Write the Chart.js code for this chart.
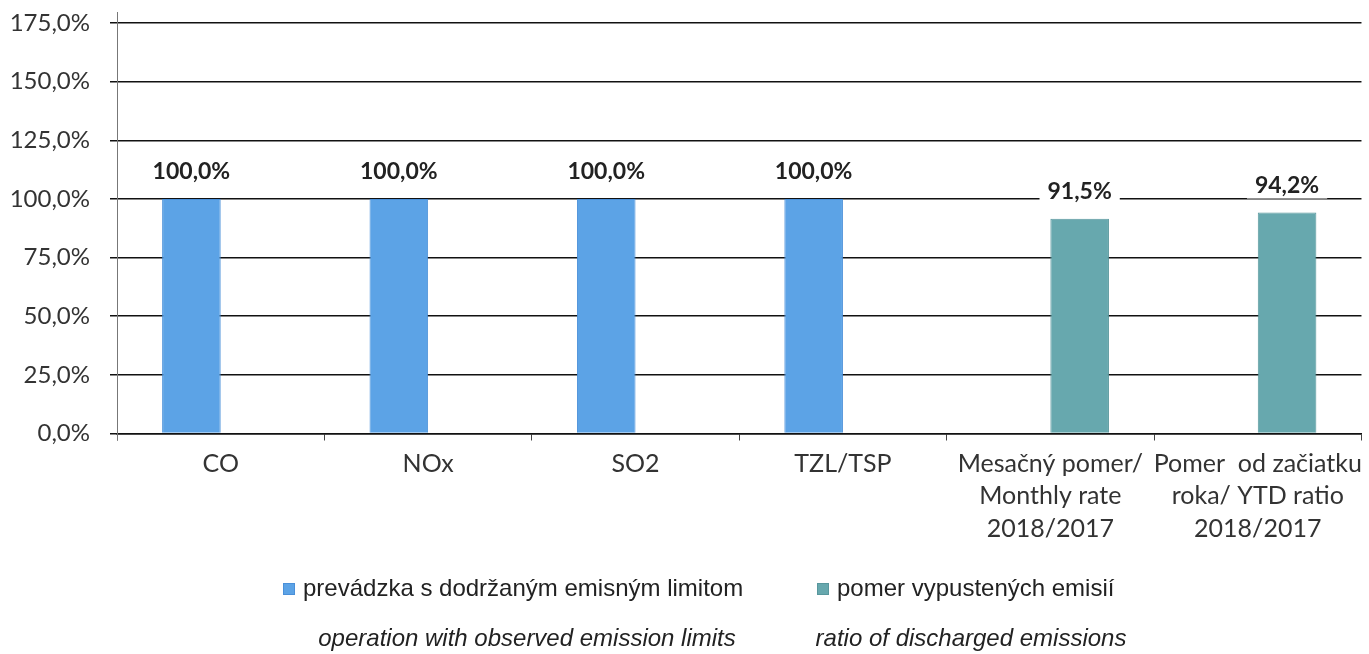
<!DOCTYPE html>
<html>
<head>
<meta charset="utf-8">
<script src="https://cdn.jsdelivr.net/npm/chart.js@4/dist/chart.umd.min.js"></script>
<style>
  html, body { margin: 0; padding: 0; background: #fff; }
  #wrap { position: relative; width: 1369px; height: 654px; }
</style>
</head>
<body>
<div id="wrap"><canvas id="c"></canvas></div>
<script>
const categories = [
  ["CO"],
  ["NOx"],
  ["SO2"],
  ["TZL/TSP"],
  ["Mesačný pomer/", "Monthly rate", "2018/2017"],
  ["Pomer  od začiatku", "roka/ YTD ratio", "2018/2017"]
];
const limitSeries = [100.0, 100.0, 100.0, 100.0, null, null];
const ratioSeries = [null, null, null, null, 91.5, 94.2];
const seriesNames = ["prevádzka s dodržaným emisným limitom", "pomer vypustených emisií"];
const seriesCaptions = ["operation with observed emission limits", "ratio of discharged emissions"];
const yTicks = [0, 25, 50, 75, 100, 125, 150, 175];

const fmt = v => v.toFixed(1).replace('.', ',') + '%';
const FONT = "Lato, 'Open Sans', sans-serif";
const LEG_FONT = "'Liberation Sans', Arial, sans-serif";

const valueLabels = {
  id: 'valueLabels',
  afterDatasetsDraw(chart) {
    const ctx = chart.ctx;
    ctx.save();
    ctx.font = "bold 23px " + FONT;
    ctx.textAlign = 'center';
    ctx.textBaseline = 'middle';
    chart.data.datasets.forEach((ds, di) => {
      const meta = chart.getDatasetMeta(di);
      meta.data.forEach((bar, i) => {
        const v = ds.data[i];
        if (v === null || v === undefined) return;
        const txt = fmt(v);
        const y = bar.y - 27;
        const w = ctx.measureText(txt).width;
        ctx.fillStyle = '#fff';
        ctx.fillRect(bar.x - w / 2 - 8, y - 13, w + 16, 26);
        ctx.fillStyle = '#222';
        ctx.fillText(txt, bar.x, y);
      });
    });
    ctx.restore();
  }
};

const axisLine = {
  id: 'axisLine',
  afterDraw(chart) {
    const ctx = chart.ctx;
    const a = chart.chartArea;
    ctx.save();
    ctx.strokeStyle = '#777';
    ctx.lineWidth = 1;
    ctx.beginPath();
    ctx.moveTo(a.left + 0.5, a.top - 11);
    ctx.lineTo(a.left + 0.5, a.bottom + 7);
    ctx.stroke();
    ctx.restore();
  }
};

// custom legend: one entry per dataset, with an italic English caption below
const legendLayout = { y: 589, captionY: 639, boxX: [283, 817], textGap: 20, captionCX: [527, 971] };
const customLegend = {
  id: 'customLegend',
  afterDraw(chart) {
    const ctx = chart.ctx;
    ctx.save();
    chart.data.datasets.forEach((ds, i) => {
      const bx = legendLayout.boxX[i];
      ctx.fillStyle = ds.backgroundColor;
      ctx.fillRect(bx, legendLayout.y - 6, 12, 12);
      ctx.strokeStyle = ds.borderColor;
      ctx.lineWidth = 1;
      ctx.strokeRect(bx + 0.5, legendLayout.y - 5.5, 11, 11);
      ctx.fillStyle = '#222';
      ctx.font = "24px " + LEG_FONT;
      ctx.textAlign = 'left';
      ctx.textBaseline = 'middle';
      ctx.fillText(ds.label, bx + legendLayout.textGap, legendLayout.y);
      ctx.font = "italic 24px " + LEG_FONT;
      ctx.textAlign = 'center';
      ctx.fillText(seriesCaptions[i], legendLayout.captionCX[i], legendLayout.captionY);
    });
    ctx.restore();
  }
};

new Chart(document.getElementById('c'), {
  type: 'bar',
  data: {
    labels: categories,
    datasets: [
      {
        label: seriesNames[0],
        data: limitSeries,
        backgroundColor: '#5ca3e6',
        borderColor: '#4a90d9',
        borderWidth: 1
      },
      {
        label: seriesNames[1],
        data: ratioSeries,
        backgroundColor: '#67a8ae',
        borderColor: '#58979d',
        borderWidth: 1
      }
    ]
  },
  options: {
    responsive: true,
    maintainAspectRatio: false,
    animation: false,
    layout: { padding: { top: 23, right: 1, left: 0, bottom: 102 } },
    datasets: { bar: { categoryPercentage: 0.565, barPercentage: 1.0 } },
    plugins: {
      tooltip: { enabled: false },
      legend: { display: false }
    },
    scales: {
      x: {
        grid: { display: true, drawOnChartArea: false, drawTicks: true, tickLength: 7, color: '#444', offset: true },
        border: { display: true, color: '#111', width: 1.5 },
        ticks: {
          font: { family: FONT, size: 25, lineHeight: 1.3 },
          color: '#333',
          padding: 7,
          maxRotation: 0,
          autoSkip: false
        }
      },
      y: {
        min: 0,
        max: 175,
        afterBuildTicks(axis) { axis.ticks = yTicks.map(v => ({ value: v })); },
        afterFit(axis) { axis.width = 117; axis.paddingTop = 0; axis.paddingBottom = 0; },
        grid: { color: '#111', lineWidth: 1.5, tickLength: 7, drawTicks: true },
        border: { display: false },
        ticks: {
          font: { family: FONT, size: 24 },
          color: '#333',
          padding: 20,
          callback: v => fmt(v)
        }
      }
    }
  },
  plugins: [valueLabels, axisLine, customLegend]
});
</script>
</body>
</html>
